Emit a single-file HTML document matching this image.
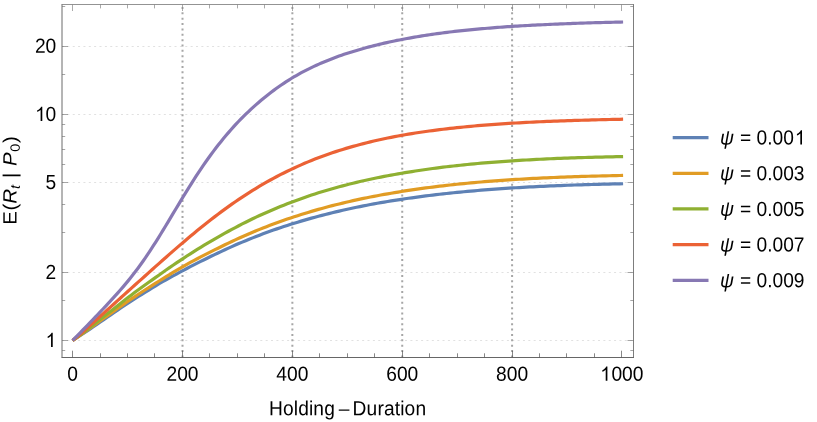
<!DOCTYPE html>
<html><head><meta charset="utf-8"><title>plot</title>
<style>
html,body{margin:0;padding:0;background:#fff;}
body{width:817px;height:422px;overflow:hidden;}
svg{display:block;will-change:transform;}
text{font-family:"Liberation Sans",sans-serif;fill:#000;}
.it{font-style:italic;}
</style></head><body>
<svg width="817" height="422" viewBox="0 0 817 422">
<rect width="817" height="422" fill="#fff"/>

<g stroke="#e1e1e1" stroke-width="1" stroke-dasharray="2 3.36" fill="none">
<line x1="62.0" x2="633.5" y1="340.50" y2="340.50"/>
<line x1="62.0" x2="633.5" y1="272.50" y2="272.50"/>
<line x1="62.0" x2="633.5" y1="182.50" y2="182.50"/>
<line x1="62.0" x2="633.5" y1="114.50" y2="114.50"/>
<line x1="62.0" x2="633.5" y1="46.50" y2="46.50"/>
</g>
<g stroke="#a6a6a6" stroke-width="2" stroke-dasharray="2 3.36" fill="none">
<line x1="182.51" x2="182.51" y1="6.98" y2="357.5"/>
<line x1="292.37" x2="292.37" y1="6.98" y2="357.5"/>
<line x1="402.23" x2="402.23" y1="6.98" y2="357.5"/>
<line x1="512.09" x2="512.09" y1="6.98" y2="357.5"/>
</g>
<g fill="none" stroke-width="3.2" stroke-linejoin="round">
<path stroke="#5E81B5" d="M72.60,340.50 L76.06,338.26 L79.52,335.99 L82.99,333.70 L86.45,331.39 L89.91,329.07 L93.37,326.73 L96.84,324.38 L100.30,322.03 L103.76,319.66 L107.22,317.28 L110.68,314.89 L114.15,312.51 L117.61,310.15 L121.07,307.80 L124.53,305.48 L128.00,303.20 L131.46,300.96 L134.92,298.73 L138.38,296.52 L141.85,294.34 L145.31,292.17 L148.77,290.03 L152.23,287.92 L155.69,285.82 L159.16,283.75 L162.62,281.72 L166.08,279.74 L169.54,277.81 L173.01,275.91 L176.47,274.04 L179.93,272.18 L183.39,270.33 L186.85,268.49 L190.32,266.69 L193.78,264.91 L197.24,263.15 L200.70,261.42 L204.17,259.70 L207.63,258.00 L211.09,256.31 L214.55,254.63 L218.02,252.97 L221.48,251.34 L224.94,249.73 L228.40,248.15 L231.86,246.60 L235.33,245.08 L238.79,243.58 L242.25,242.11 L245.71,240.67 L249.18,239.26 L252.64,237.87 L256.10,236.51 L259.56,235.17 L263.02,233.86 L266.49,232.57 L269.95,231.31 L273.41,230.08 L276.87,228.88 L280.34,227.70 L283.80,226.54 L287.26,225.41 L290.72,224.30 L294.18,223.22 L297.65,222.16 L301.11,221.13 L304.57,220.11 L308.03,219.12 L311.50,218.15 L314.96,217.19 L318.42,216.26 L321.88,215.35 L325.35,214.46 L328.81,213.59 L332.27,212.73 L335.73,211.90 L339.19,211.08 L342.66,210.28 L346.12,209.50 L349.58,208.74 L353.04,208.00 L356.51,207.28 L359.97,206.57 L363.43,205.88 L366.89,205.20 L370.35,204.54 L373.82,203.90 L377.28,203.28 L380.74,202.66 L384.20,202.07 L387.67,201.49 L391.13,200.92 L394.59,200.37 L398.05,199.83 L401.52,199.31 L404.98,198.79 L408.44,198.29 L411.90,197.80 L415.36,197.33 L418.83,196.86 L422.29,196.40 L425.75,195.96 L429.21,195.52 L432.68,195.10 L436.14,194.69 L439.60,194.28 L443.06,193.89 L446.52,193.51 L449.99,193.13 L453.45,192.77 L456.91,192.42 L460.37,192.07 L463.84,191.74 L467.30,191.41 L470.76,191.09 L474.22,190.79 L477.68,190.49 L481.15,190.20 L484.61,189.92 L488.07,189.64 L491.53,189.38 L495.00,189.12 L498.46,188.88 L501.92,188.64 L505.38,188.40 L508.85,188.18 L512.31,187.96 L515.77,187.75 L519.23,187.54 L522.69,187.35 L526.16,187.15 L529.62,186.97 L533.08,186.78 L536.54,186.61 L540.01,186.44 L543.47,186.28 L546.93,186.12 L550.39,185.96 L553.85,185.82 L557.32,185.67 L560.78,185.53 L564.24,185.40 L567.70,185.27 L571.17,185.14 L574.63,185.02 L578.09,184.91 L581.55,184.80 L585.02,184.69 L588.48,184.58 L591.94,184.48 L595.40,184.39 L598.86,184.30 L602.33,184.21 L605.79,184.12 L609.25,184.04 L612.71,183.96 L616.18,183.89 L619.64,183.81 L623.10,183.74"/>
<path stroke="#E19C24" d="M72.60,340.50 L76.06,338.07 L79.52,335.62 L82.99,333.17 L86.45,330.70 L89.91,328.22 L93.37,325.75 L96.84,323.27 L100.30,320.79 L103.76,318.32 L107.22,315.85 L110.68,313.39 L114.15,310.94 L117.61,308.50 L121.07,306.07 L124.53,303.66 L128.00,301.27 L131.46,298.89 L134.92,296.55 L138.38,294.26 L141.85,292.00 L145.31,289.77 L148.77,287.56 L152.23,285.37 L155.69,283.18 L159.16,281.00 L162.62,278.82 L166.08,276.67 L169.54,274.54 L173.01,272.44 L176.47,270.37 L179.93,268.32 L183.39,266.31 L186.85,264.34 L190.32,262.43 L193.78,260.57 L197.24,258.75 L200.70,256.95 L204.17,255.18 L207.63,253.43 L211.09,251.68 L214.55,249.94 L218.02,248.20 L221.48,246.49 L224.94,244.80 L228.40,243.14 L231.86,241.50 L235.33,239.89 L238.79,238.30 L242.25,236.75 L245.71,235.22 L249.18,233.71 L252.64,232.24 L256.10,230.80 L259.56,229.38 L263.02,228.00 L266.49,226.65 L269.95,225.32 L273.41,224.02 L276.87,222.75 L280.34,221.50 L283.80,220.28 L287.26,219.09 L290.72,217.92 L294.18,216.77 L297.65,215.65 L301.11,214.55 L304.57,213.47 L308.03,212.42 L311.50,211.39 L314.96,210.38 L318.42,209.40 L321.88,208.43 L325.35,207.49 L328.81,206.57 L332.27,205.67 L335.73,204.79 L339.19,203.93 L342.66,203.09 L346.12,202.27 L349.58,201.47 L353.04,200.68 L356.51,199.92 L359.97,199.17 L363.43,198.44 L366.89,197.73 L370.35,197.04 L373.82,196.36 L377.28,195.70 L380.74,195.05 L384.20,194.42 L387.67,193.81 L391.13,193.21 L394.59,192.62 L398.05,192.05 L401.52,191.50 L404.98,190.95 L408.44,190.42 L411.90,189.91 L415.36,189.40 L418.83,188.91 L422.29,188.43 L425.75,187.96 L429.21,187.51 L432.68,187.07 L436.14,186.63 L439.60,186.21 L443.06,185.80 L446.52,185.40 L449.99,185.02 L453.45,184.64 L456.91,184.27 L460.37,183.92 L463.84,183.57 L467.30,183.23 L470.76,182.90 L474.22,182.59 L477.68,182.28 L481.15,181.98 L484.61,181.69 L488.07,181.41 L491.53,181.14 L495.00,180.87 L498.46,180.62 L501.92,180.37 L505.38,180.13 L508.85,179.90 L512.31,179.68 L515.77,179.46 L519.23,179.25 L522.69,179.05 L526.16,178.85 L529.62,178.66 L533.08,178.47 L536.54,178.30 L540.01,178.12 L543.47,177.96 L546.93,177.80 L550.39,177.64 L553.85,177.49 L557.32,177.35 L560.78,177.21 L564.24,177.07 L567.70,176.94 L571.17,176.82 L574.63,176.70 L578.09,176.58 L581.55,176.47 L585.02,176.36 L588.48,176.26 L591.94,176.16 L595.40,176.07 L598.86,175.98 L602.33,175.89 L605.79,175.81 L609.25,175.73 L612.71,175.66 L616.18,175.59 L619.64,175.52 L623.10,175.45"/>
<path stroke="#8FB032" d="M72.60,340.50 L76.06,337.96 L79.52,335.39 L82.99,332.77 L86.45,330.13 L89.91,327.46 L93.37,324.77 L96.84,322.06 L100.30,319.34 L103.76,316.61 L107.22,313.87 L110.68,311.13 L114.15,308.40 L117.61,305.68 L121.07,302.97 L124.53,300.27 L128.00,297.59 L131.46,294.92 L134.92,292.31 L138.38,289.75 L141.85,287.23 L145.31,284.75 L148.77,282.28 L152.23,279.83 L155.69,277.39 L159.16,274.94 L162.62,272.49 L166.08,270.06 L169.54,267.65 L173.01,265.27 L176.47,262.92 L179.93,260.59 L183.39,258.30 L186.85,256.03 L190.32,253.79 L193.78,251.59 L197.24,249.42 L200.70,247.28 L204.17,245.17 L207.63,243.09 L211.09,241.05 L214.55,239.03 L218.02,237.05 L221.48,235.09 L224.94,233.16 L228.40,231.25 L231.86,229.38 L235.33,227.54 L238.79,225.73 L242.25,223.95 L245.71,222.20 L249.18,220.49 L252.64,218.81 L256.10,217.16 L259.56,215.55 L263.02,213.97 L266.49,212.43 L269.95,210.92 L273.41,209.44 L276.87,207.99 L280.34,206.56 L283.80,205.17 L287.26,203.81 L290.72,202.48 L294.18,201.18 L297.65,199.90 L301.11,198.66 L304.57,197.44 L308.03,196.25 L311.50,195.09 L314.96,193.96 L318.42,192.85 L321.88,191.78 L325.35,190.73 L328.81,189.70 L332.27,188.70 L335.73,187.73 L339.19,186.78 L342.66,185.85 L346.12,184.95 L349.58,184.07 L353.04,183.21 L356.51,182.38 L359.97,181.56 L363.43,180.76 L366.89,179.99 L370.35,179.23 L373.82,178.50 L377.28,177.78 L380.74,177.08 L384.20,176.40 L387.67,175.74 L391.13,175.09 L394.59,174.46 L398.05,173.85 L401.52,173.25 L404.98,172.67 L408.44,172.10 L411.90,171.55 L415.36,171.01 L418.83,170.49 L422.29,169.98 L425.75,169.48 L429.21,169.00 L432.68,168.53 L436.14,168.08 L439.60,167.63 L443.06,167.20 L446.52,166.78 L449.99,166.38 L453.45,165.98 L456.91,165.60 L460.37,165.22 L463.84,164.86 L467.30,164.51 L470.76,164.17 L474.22,163.84 L477.68,163.52 L481.15,163.21 L484.61,162.91 L488.07,162.62 L491.53,162.34 L495.00,162.07 L498.46,161.81 L501.92,161.55 L505.38,161.31 L508.85,161.07 L512.31,160.84 L515.77,160.62 L519.23,160.40 L522.69,160.20 L526.16,159.99 L529.62,159.80 L533.08,159.61 L536.54,159.43 L540.01,159.26 L543.47,159.09 L546.93,158.93 L550.39,158.77 L553.85,158.62 L557.32,158.47 L560.78,158.33 L564.24,158.20 L567.70,158.07 L571.17,157.94 L574.63,157.82 L578.09,157.71 L581.55,157.60 L585.02,157.49 L588.48,157.39 L591.94,157.29 L595.40,157.20 L598.86,157.11 L602.33,157.03 L605.79,156.95 L609.25,156.87 L612.71,156.79 L616.18,156.72 L619.64,156.66 L623.10,156.59"/>
<path stroke="#EB6235" d="M72.60,340.50 L76.06,337.67 L79.52,334.73 L82.99,331.71 L86.45,328.65 L89.91,325.55 L93.37,322.44 L96.84,319.32 L100.30,316.20 L103.76,313.08 L107.22,309.96 L110.68,306.84 L114.15,303.72 L117.61,300.61 L121.07,297.49 L124.53,294.38 L128.00,291.27 L131.46,288.16 L134.92,285.04 L138.38,281.93 L141.85,278.83 L145.31,275.72 L148.77,272.61 L152.23,269.52 L155.69,266.43 L159.16,263.34 L162.62,260.27 L166.08,257.21 L169.54,254.16 L173.01,251.13 L176.47,248.12 L179.93,245.14 L183.39,242.17 L186.85,239.23 L190.32,236.32 L193.78,233.43 L197.24,230.58 L200.70,227.77 L204.17,224.98 L207.63,222.24 L211.09,219.53 L214.55,216.86 L218.02,214.23 L221.48,211.65 L224.94,209.11 L228.40,206.61 L231.86,204.16 L235.33,201.75 L238.79,199.39 L242.25,197.07 L245.71,194.80 L249.18,192.58 L252.64,190.41 L256.10,188.28 L259.56,186.20 L263.02,184.17 L266.49,182.18 L269.95,180.24 L273.41,178.35 L276.87,176.50 L280.34,174.70 L283.80,172.95 L287.26,171.24 L290.72,169.57 L294.18,167.95 L297.65,166.37 L301.11,164.84 L304.57,163.34 L308.03,161.89 L311.50,160.47 L314.96,159.10 L318.42,157.76 L321.88,156.47 L325.35,155.21 L328.81,153.98 L332.27,152.80 L335.73,151.64 L339.19,150.53 L342.66,149.44 L346.12,148.39 L349.58,147.37 L353.04,146.38 L356.51,145.42 L359.97,144.49 L363.43,143.59 L366.89,142.72 L370.35,141.87 L373.82,141.05 L377.28,140.26 L380.74,139.49 L384.20,138.75 L387.67,138.03 L391.13,137.33 L394.59,136.65 L398.05,136.00 L401.52,135.37 L404.98,134.76 L408.44,134.17 L411.90,133.59 L415.36,133.04 L418.83,132.51 L422.29,131.99 L425.75,131.49 L429.21,131.00 L432.68,130.54 L436.14,130.08 L439.60,129.65 L443.06,129.22 L446.52,128.82 L449.99,128.42 L453.45,128.04 L456.91,127.67 L460.37,127.31 L463.84,126.97 L467.30,126.64 L470.76,126.32 L474.22,126.01 L477.68,125.71 L481.15,125.42 L484.61,125.14 L488.07,124.87 L491.53,124.60 L495.00,124.35 L498.46,124.11 L501.92,123.87 L505.38,123.65 L508.85,123.43 L512.31,123.22 L515.77,123.01 L519.23,122.81 L522.69,122.62 L526.16,122.44 L529.62,122.26 L533.08,122.09 L536.54,121.92 L540.01,121.76 L543.47,121.61 L546.93,121.46 L550.39,121.32 L553.85,121.18 L557.32,121.04 L560.78,120.91 L564.24,120.79 L567.70,120.67 L571.17,120.55 L574.63,120.44 L578.09,120.33 L581.55,120.23 L585.02,120.13 L588.48,120.03 L591.94,119.94 L595.40,119.84 L598.86,119.76 L602.33,119.67 L605.79,119.59 L609.25,119.51 L612.71,119.44 L616.18,119.36 L619.64,119.29 L623.10,119.22"/>
<path stroke="#8778B3" d="M72.60,340.50 L75.11,337.94 L77.63,335.37 L80.14,332.79 L82.65,330.21 L85.17,327.62 L87.68,325.03 L90.20,322.42 L92.71,319.81 L95.22,317.19 L97.74,314.55 L100.25,311.90 L102.76,309.24 L105.28,306.56 L107.79,303.88 L110.31,301.18 L112.82,298.45 L115.33,295.68 L117.85,292.86 L120.36,289.99 L122.87,287.09 L125.39,284.13 L127.90,281.11 L130.42,278.01 L132.93,274.82 L135.44,271.54 L137.96,268.18 L140.47,264.74 L142.98,261.21 L145.50,257.60 L148.01,253.90 L150.52,250.11 L153.04,246.24 L155.55,242.29 L158.07,238.28 L160.58,234.23 L163.09,230.14 L165.61,226.01 L168.12,221.84 L170.63,217.63 L173.15,213.42 L175.66,209.23 L178.18,205.06 L180.69,200.90 L183.20,196.76 L185.72,192.64 L188.23,188.57 L190.74,184.56 L193.26,180.60 L195.77,176.70 L198.28,172.87 L200.80,169.09 L203.31,165.39 L205.83,161.76 L208.34,158.21 L210.85,154.74 L213.37,151.35 L215.88,148.04 L218.39,144.81 L220.91,141.65 L223.42,138.57 L225.94,135.55 L228.45,132.61 L230.96,129.73 L233.48,126.92 L235.99,124.19 L238.50,121.52 L241.02,118.92 L243.53,116.40 L246.05,113.94 L248.56,111.53 L251.07,109.18 L253.59,106.88 L256.10,104.63 L258.61,102.44 L261.13,100.30 L263.64,98.21 L266.15,96.17 L268.67,94.18 L271.18,92.25 L273.70,90.37 L276.21,88.54 L278.72,86.75 L281.24,85.01 L283.75,83.32 L286.26,81.67 L288.78,80.06 L291.29,78.50 L293.81,76.98 L296.32,75.51 L298.83,74.08 L301.35,72.70 L303.86,71.36 L306.37,70.06 L308.89,68.81 L311.40,67.60 L313.92,66.42 L316.43,65.27 L318.94,64.14 L321.46,63.04 L323.97,61.97 L326.48,60.92 L329.00,59.90 L331.51,58.91 L334.02,57.95 L336.54,57.01 L339.05,56.10 L341.57,55.21 L344.08,54.35 L346.59,53.52 L349.11,52.72 L351.62,51.94 L354.13,51.17 L356.65,50.42 L359.16,49.69 L361.68,48.97 L364.19,48.26 L366.70,47.57 L369.22,46.90 L371.73,46.24 L374.24,45.59 L376.76,44.96 L379.27,44.34 L381.78,43.74 L384.30,43.15 L386.81,42.58 L389.33,42.03 L391.84,41.48 L394.35,40.96 L396.87,40.44 L399.38,39.95 L401.89,39.46 L404.41,38.99 L406.92,38.52 L409.44,38.07 L411.95,37.62 L414.46,37.18 L416.98,36.75 L419.49,36.33 L422.00,35.92 L424.52,35.52 L427.03,35.13 L429.55,34.75 L432.06,34.38 L434.57,34.01 L437.09,33.66 L439.60,33.31 L442.11,32.98 L444.63,32.65 L447.14,32.34 L449.65,32.03 L452.17,31.73 L454.68,31.44 L457.20,31.16 L459.71,30.89 L462.22,30.63 L464.74,30.37 L467.25,30.12 L469.76,29.87 L472.28,29.62 L474.79,29.39 L477.31,29.15 L479.82,28.92 L482.33,28.70 L484.85,28.48 L487.36,28.26 L489.87,28.05 L492.39,27.85 L494.90,27.65 L497.42,27.45 L499.93,27.26 L502.44,27.08 L504.96,26.90 L507.47,26.72 L509.98,26.55 L512.50,26.38 L515.01,26.22 L517.52,26.06 L520.04,25.91 L522.55,25.76 L525.07,25.62 L527.58,25.48 L530.09,25.35 L532.61,25.22 L535.12,25.10 L537.63,24.97 L540.15,24.85 L542.66,24.73 L545.18,24.61 L547.69,24.49 L550.20,24.38 L552.72,24.27 L555.23,24.16 L557.74,24.05 L560.26,23.94 L562.77,23.84 L565.28,23.74 L567.80,23.64 L570.31,23.54 L572.83,23.45 L575.34,23.36 L577.85,23.27 L580.37,23.18 L582.88,23.09 L585.39,23.01 L587.91,22.93 L590.42,22.85 L592.94,22.77 L595.45,22.69 L597.96,22.62 L600.48,22.55 L602.99,22.48 L605.50,22.41 L608.02,22.35 L610.53,22.29 L613.05,22.23 L615.56,22.17 L618.07,22.11 L620.59,22.06 L623.10,22.01"/>
</g>
<g stroke-width="1" fill="none"><line x1="61.5" x2="634.0" y1="4.5" y2="4.5" stroke="#808080" stroke-width="0.85"/><line x1="61.5" x2="634.0" y1="357.5" y2="357.5" stroke="#666"/><line x1="62.0" x2="62.0" y1="4.5" y2="357.5" stroke="#6b6b6b"/><line x1="633.5" x2="633.5" y1="4.5" y2="357.5" stroke="#666" stroke-width="0.85"/></g>
<g stroke="#555" stroke-width="0.7" fill="none">
<line x1="72.50" x2="72.50" y1="357.5" y2="350.7"/>
<line x1="72.50" x2="72.50" y1="4.5" y2="11.0" stroke="#858585"/>
<line x1="100.50" x2="100.50" y1="357.5" y2="353.3"/>
<line x1="100.50" x2="100.50" y1="4.5" y2="8.399999999999999" stroke="#858585"/>
<line x1="127.50" x2="127.50" y1="357.5" y2="353.3"/>
<line x1="127.50" x2="127.50" y1="4.5" y2="8.399999999999999" stroke="#858585"/>
<line x1="154.50" x2="154.50" y1="357.5" y2="353.3"/>
<line x1="154.50" x2="154.50" y1="4.5" y2="8.399999999999999" stroke="#858585"/>
<line x1="182.50" x2="182.50" y1="357.5" y2="350.7"/>
<line x1="182.50" x2="182.50" y1="4.5" y2="11.0" stroke="#858585"/>
<line x1="209.50" x2="209.50" y1="357.5" y2="353.3"/>
<line x1="209.50" x2="209.50" y1="4.5" y2="8.399999999999999" stroke="#858585"/>
<line x1="237.50" x2="237.50" y1="357.5" y2="353.3"/>
<line x1="237.50" x2="237.50" y1="4.5" y2="8.399999999999999" stroke="#858585"/>
<line x1="264.50" x2="264.50" y1="357.5" y2="353.3"/>
<line x1="264.50" x2="264.50" y1="4.5" y2="8.399999999999999" stroke="#858585"/>
<line x1="292.50" x2="292.50" y1="357.5" y2="350.7"/>
<line x1="292.50" x2="292.50" y1="4.5" y2="11.0" stroke="#858585"/>
<line x1="319.50" x2="319.50" y1="357.5" y2="353.3"/>
<line x1="319.50" x2="319.50" y1="4.5" y2="8.399999999999999" stroke="#858585"/>
<line x1="347.50" x2="347.50" y1="357.5" y2="353.3"/>
<line x1="347.50" x2="347.50" y1="4.5" y2="8.399999999999999" stroke="#858585"/>
<line x1="374.50" x2="374.50" y1="357.5" y2="353.3"/>
<line x1="374.50" x2="374.50" y1="4.5" y2="8.399999999999999" stroke="#858585"/>
<line x1="402.50" x2="402.50" y1="357.5" y2="350.7"/>
<line x1="402.50" x2="402.50" y1="4.5" y2="11.0" stroke="#858585"/>
<line x1="429.50" x2="429.50" y1="357.5" y2="353.3"/>
<line x1="429.50" x2="429.50" y1="4.5" y2="8.399999999999999" stroke="#858585"/>
<line x1="457.50" x2="457.50" y1="357.5" y2="353.3"/>
<line x1="457.50" x2="457.50" y1="4.5" y2="8.399999999999999" stroke="#858585"/>
<line x1="484.50" x2="484.50" y1="357.5" y2="353.3"/>
<line x1="484.50" x2="484.50" y1="4.5" y2="8.399999999999999" stroke="#858585"/>
<line x1="512.50" x2="512.50" y1="357.5" y2="350.7"/>
<line x1="512.50" x2="512.50" y1="4.5" y2="11.0" stroke="#858585"/>
<line x1="539.50" x2="539.50" y1="357.5" y2="353.3"/>
<line x1="539.50" x2="539.50" y1="4.5" y2="8.399999999999999" stroke="#858585"/>
<line x1="566.50" x2="566.50" y1="357.5" y2="353.3"/>
<line x1="566.50" x2="566.50" y1="4.5" y2="8.399999999999999" stroke="#858585"/>
<line x1="594.50" x2="594.50" y1="357.5" y2="353.3"/>
<line x1="594.50" x2="594.50" y1="4.5" y2="8.399999999999999" stroke="#858585"/>
<line x1="621.50" x2="621.50" y1="357.5" y2="350.7"/>
<line x1="621.50" x2="621.50" y1="4.5" y2="11.0" stroke="#858585"/>
</g>
<g stroke="#6a6a6a" stroke-width="0.6" fill="none">
<line x1="62.0" x2="65.2" y1="350.50" y2="350.50"/>
<line x1="633.5" x2="630.3" y1="350.50" y2="350.50"/>
<line x1="62.0" x2="68.0" y1="340.50" y2="340.50"/>
<line x1="633.5" x2="627.5" y1="340.50" y2="340.50"/>
<line x1="62.0" x2="65.2" y1="300.50" y2="300.50"/>
<line x1="633.5" x2="630.3" y1="300.50" y2="300.50"/>
<line x1="62.0" x2="68.0" y1="272.50" y2="272.50"/>
<line x1="633.5" x2="627.5" y1="272.50" y2="272.50"/>
<line x1="62.0" x2="65.2" y1="232.50" y2="232.50"/>
<line x1="633.5" x2="630.3" y1="232.50" y2="232.50"/>
<line x1="62.0" x2="65.2" y1="204.50" y2="204.50"/>
<line x1="633.5" x2="630.3" y1="204.50" y2="204.50"/>
<line x1="62.0" x2="68.0" y1="182.50" y2="182.50"/>
<line x1="633.5" x2="627.5" y1="182.50" y2="182.50"/>
<line x1="62.0" x2="65.2" y1="164.50" y2="164.50"/>
<line x1="633.5" x2="630.3" y1="164.50" y2="164.50"/>
<line x1="62.0" x2="65.2" y1="149.50" y2="149.50"/>
<line x1="633.5" x2="630.3" y1="149.50" y2="149.50"/>
<line x1="62.0" x2="65.2" y1="136.50" y2="136.50"/>
<line x1="633.5" x2="630.3" y1="136.50" y2="136.50"/>
<line x1="62.0" x2="65.2" y1="124.50" y2="124.50"/>
<line x1="633.5" x2="630.3" y1="124.50" y2="124.50"/>
<line x1="62.0" x2="68.0" y1="114.50" y2="114.50"/>
<line x1="633.5" x2="627.5" y1="114.50" y2="114.50"/>
<line x1="62.0" x2="65.2" y1="74.50" y2="74.50"/>
<line x1="633.5" x2="630.3" y1="74.50" y2="74.50"/>
<line x1="62.0" x2="68.0" y1="46.50" y2="46.50"/>
<line x1="633.5" x2="627.5" y1="46.50" y2="46.50"/>
<line x1="62.0" x2="65.2" y1="6.50" y2="6.50"/>
<line x1="633.5" x2="630.3" y1="6.50" y2="6.50"/>
</g>
<g font-size="19.2">
<text transform="translate(72.65,380.75) scale(1,1.065) rotate(0.03)" text-anchor="middle">0</text>
<text transform="translate(182.51,380.75) scale(1,1.065) rotate(0.03)" text-anchor="middle">200</text>
<text transform="translate(292.37,380.75) scale(1,1.065) rotate(0.03)" text-anchor="middle">400</text>
<text transform="translate(402.23,380.75) scale(1,1.065) rotate(0.03)" text-anchor="middle">600</text>
<text transform="translate(512.09,380.75) scale(1,1.065) rotate(0.03)" text-anchor="middle">800</text>
<path d="M763 0H583V1147Q518 1085 412.5 1023T223 930V1104Q373 1174.5 485 1275T644 1470H763Z" transform="translate(600.24,380.75) scale(0.009375,-0.009611)" fill="#000"/>
<text transform="translate(611.42,380.75) scale(1,1.065) rotate(0.03)" text-anchor="start">000</text>
<text transform="translate(56.30,278.94) scale(1,1.065) rotate(0.03)" text-anchor="end">2</text>
<text transform="translate(56.30,188.97) scale(1,1.065) rotate(0.03)" text-anchor="end">5</text>
<text transform="translate(56.30,52.85) scale(1,1.065) rotate(0.03)" text-anchor="end">20</text>
<path d="M763 0H583V1147Q518 1085 412.5 1023T223 930V1104Q373 1174.5 485 1275T644 1470H763Z" transform="translate(45.57,347.00) scale(0.009375,-0.009611)" fill="#000"/>
<path d="M763 0H583V1147Q518 1085 412.5 1023T223 930V1104Q373 1174.5 485 1275T644 1470H763Z" transform="translate(35.14,120.91) scale(0.009375,-0.009611)" fill="#000"/>
<text transform="translate(56.30,120.91) scale(1,1.065) rotate(0.03)" text-anchor="end">0</text>
<text transform="translate(347.60,415.30) scale(1,1.065) rotate(0.03)" text-anchor="middle"><tspan letter-spacing="0.13">Holding<tspan dx="-1.6">&#160;</tspan>&#8211;<tspan dx="-2.5">&#160;</tspan>Duration</tspan></text>
<text transform="translate(16.60,180.50) scale(1,1.065) rotate(0.03) rotate(-90)" text-anchor="middle">E<tspan dx="0.5">(</tspan><tspan class="it">R</tspan><tspan class="it" font-size="13.5" dy="3.2">t</tspan><tspan dy="-3.2" dx="1.2"> |</tspan><tspan dx="1.0"> </tspan><tspan class="it">P</tspan><tspan font-size="13.5" dy="3.2" dx="0.6">0</tspan><tspan dy="-3.2" dx="0.5">)</tspan></text>
<line x1="672.7" x2="708.5" y1="137.60" y2="137.60" stroke="#5E81B5" stroke-width="3.2"/>
<text transform="translate(720.10,144.50) scale(1,1.065) rotate(0.03)" text-anchor="start"><tspan class="it">&#968;</tspan><tspan dx="0.5"> </tspan>= 0.00</text>
<path d="M763 0H583V1147Q518 1085 412.5 1023T223 930V1104Q373 1174.5 485 1275T644 1470H763Z" transform="translate(794.85,144.50) scale(0.009375,-0.009611)" fill="#000"/>
<line x1="672.7" x2="708.5" y1="173.28" y2="173.28" stroke="#E19C24" stroke-width="3.2"/>
<text transform="translate(720.10,180.18) scale(1,1.065) rotate(0.03)" text-anchor="start"><tspan class="it">&#968;</tspan><tspan dx="0.5"> </tspan>= 0.003</text>
<line x1="672.7" x2="708.5" y1="208.96" y2="208.96" stroke="#8FB032" stroke-width="3.2"/>
<text transform="translate(720.10,215.86) scale(1,1.065) rotate(0.03)" text-anchor="start"><tspan class="it">&#968;</tspan><tspan dx="0.5"> </tspan>= 0.005</text>
<line x1="672.7" x2="708.5" y1="244.64" y2="244.64" stroke="#EB6235" stroke-width="3.2"/>
<text transform="translate(720.10,251.54) scale(1,1.065) rotate(0.03)" text-anchor="start"><tspan class="it">&#968;</tspan><tspan dx="0.5"> </tspan>= 0.007</text>
<line x1="672.7" x2="708.5" y1="280.32" y2="280.32" stroke="#8778B3" stroke-width="3.2"/>
<text transform="translate(720.10,287.22) scale(1,1.065) rotate(0.03)" text-anchor="start"><tspan class="it">&#968;</tspan><tspan dx="0.5"> </tspan>= 0.009</text>
</g>
</svg></body></html>
